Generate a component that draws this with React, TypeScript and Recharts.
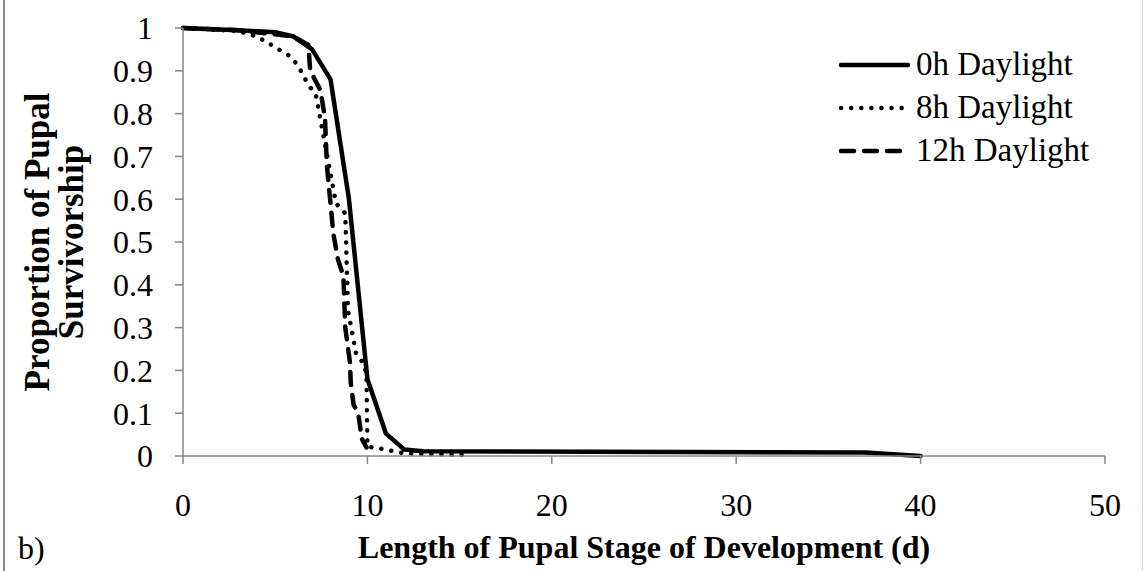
import React from 'react';
import { LineChart, Line, XAxis, YAxis, Legend } from 'recharts';

// survivorship curves (x = days, y = proportion alive)
const daylight0h = [
  { d: 0, p: 1 }, { d: 3, p: 0.995 }, { d: 5, p: 0.99 }, { d: 6, p: 0.98 },
  { d: 7, p: 0.95 }, { d: 8, p: 0.88 }, { d: 9, p: 0.6 }, { d: 10, p: 0.18 },
  { d: 11, p: 0.053 }, { d: 12, p: 0.015 }, { d: 13, p: 0.011 }, { d: 37, p: 0.008 },
  { d: 40, p: 0 },
];

const daylight8h = [
  { d: 0, p: 1 }, { d: 3, p: 0.993 }, { d: 4, p: 0.98 }, { d: 4.5, p: 0.968 },
  { d: 5.7, p: 0.937 }, { d: 6.2, p: 0.915 }, { d: 6.8, p: 0.867 }, { d: 7.2, p: 0.845 },
  { d: 8.3, p: 0.59 }, { d: 8.8, p: 0.567 }, { d: 8.95, p: 0.34 }, { d: 9.4, p: 0.236 },
  { d: 9.8, p: 0.217 }, { d: 9.95, p: 0.19 }, { d: 10, p: 0.022 }, { d: 10.9, p: 0.016 },
  { d: 12, p: 0.006 }, { d: 15.5, p: 0.002 },
];

const daylight12h = [
  { d: 0, p: 1 }, { d: 3, p: 0.995 }, { d: 6, p: 0.98 }, { d: 6.8, p: 0.96 },
  { d: 6.9, p: 0.9 }, { d: 7.45, p: 0.855 }, { d: 7.7, p: 0.79 }, { d: 7.8, p: 0.68 },
  { d: 8, p: 0.59 }, { d: 8.15, p: 0.52 }, { d: 8.4, p: 0.46 }, { d: 8.7, p: 0.42 },
  { d: 8.8, p: 0.3 }, { d: 9.05, p: 0.22 }, { d: 9.1, p: 0.17 }, { d: 9.25, p: 0.12 },
  { d: 9.5, p: 0.1 }, { d: 9.7, p: 0.04 }, { d: 9.95, p: 0.02 },
];

const xTicks = [0, 10, 20, 30, 40, 50];
const yTicks = [0, 0.1, 0.2, 0.3, 0.4, 0.5, 0.6, 0.7, 0.8, 0.9, 1];

const FONT = '"Liberation Serif", serif';
const AXIS = '#868686';
const LW = 4.5;

const seriesStyle = [
  { name: '0h Daylight', data: daylight0h, dash: undefined as string | undefined },
  { name: '8h Daylight', data: daylight8h, dash: '0.1 10' },
  { name: '12h Daylight', data: daylight12h, dash: '13 10' },
];

const fmtY = (v: number) => (v === 0 || v === 1 ? String(v) : v.toFixed(1));

function YTitle() {
  return (
    <text
      transform="translate(49,242) rotate(-90)"
      textAnchor="middle"
      fontFamily={FONT}
      fontSize={35}
      fontWeight="bold"
      fill="#000"
    >
      <tspan x={0} dy={0}>Proportion of Pupal</tspan>
      <tspan x={0} dy={34}>Survivorship</tspan>
    </text>
  );
}

function LegendBox() {
  return (
    <div style={{ fontFamily: FONT, fontSize: 33, color: '#000' }}>
      {seriesStyle.map(s => (
        <div key={s.name} style={{ display: 'flex', alignItems: 'center', height: 43 }}>
          <svg width={74} height={10}>
            <line x1={3} x2={70} y1={5} y2={5} stroke="#000" strokeWidth={LW}
              strokeLinecap="round" strokeDasharray={s.dash} />
          </svg>
          <span style={{ marginLeft: 4, whiteSpace: 'nowrap' }}>{s.name}</span>
        </div>
      ))}
    </div>
  );
}

export default function App() {
  return (
    <div style={{ position: 'absolute', left: 0, top: 0, width: 1144, height: 571, background: '#fff' }}>
      <div style={{ position: 'absolute', left: 3, top: 0, width: 2, height: 571, background: '#8a8a8a' }} />
      <div style={{ position: 'absolute', left: 1142, top: 0, width: 1, height: 571, background: '#d4d4d4' }} />
      <LineChart width={1144} height={571} margin={{ top: 28, right: 39, left: 0, bottom: 0 }}>
        <XAxis
          dataKey="d" type="number" domain={[0, 50]} ticks={xTicks} height={115}
          stroke={AXIS} strokeWidth={1.5} tickSize={8} tickMargin={29}
          tick={{ fontSize: 32, fill: '#000', fontFamily: FONT }}
          label={{ value: 'Length of Pupal Stage of Development (d)', position: 'insideBottom', offset: 13,
            fontSize: 32, fontWeight: 'bold', fill: '#000', fontFamily: FONT }}
        />
        <YAxis
          type="number" domain={[0, 1]} ticks={yTicks} width={183} interval={0}
          stroke={AXIS} strokeWidth={1.5} tickSize={8} tickMargin={22} tickFormatter={fmtY}
          tick={{ fontSize: 32, fill: '#000', fontFamily: FONT }}
          label={{ content: () => <YTitle /> }}
        />
        <Legend layout="vertical" align="center" verticalAlign="middle"
          wrapperStyle={{ top: 43, left: 838, width: 300 }} content={() => <LegendBox />} />
        {seriesStyle.map(s => (
          <Line key={s.name} name={s.name} data={s.data} dataKey="p" type="linear"
            stroke="#000" strokeWidth={LW} strokeDasharray={s.dash} strokeLinecap="round"
            strokeLinejoin="round" dot={false} activeDot={false} isAnimationActive={false} />
        ))}
      </LineChart>
      <div style={{ position: 'absolute', left: 18, top: 532, fontFamily: FONT, fontSize: 32, lineHeight: '32px' }}>b)</div>
    </div>
  );
}
